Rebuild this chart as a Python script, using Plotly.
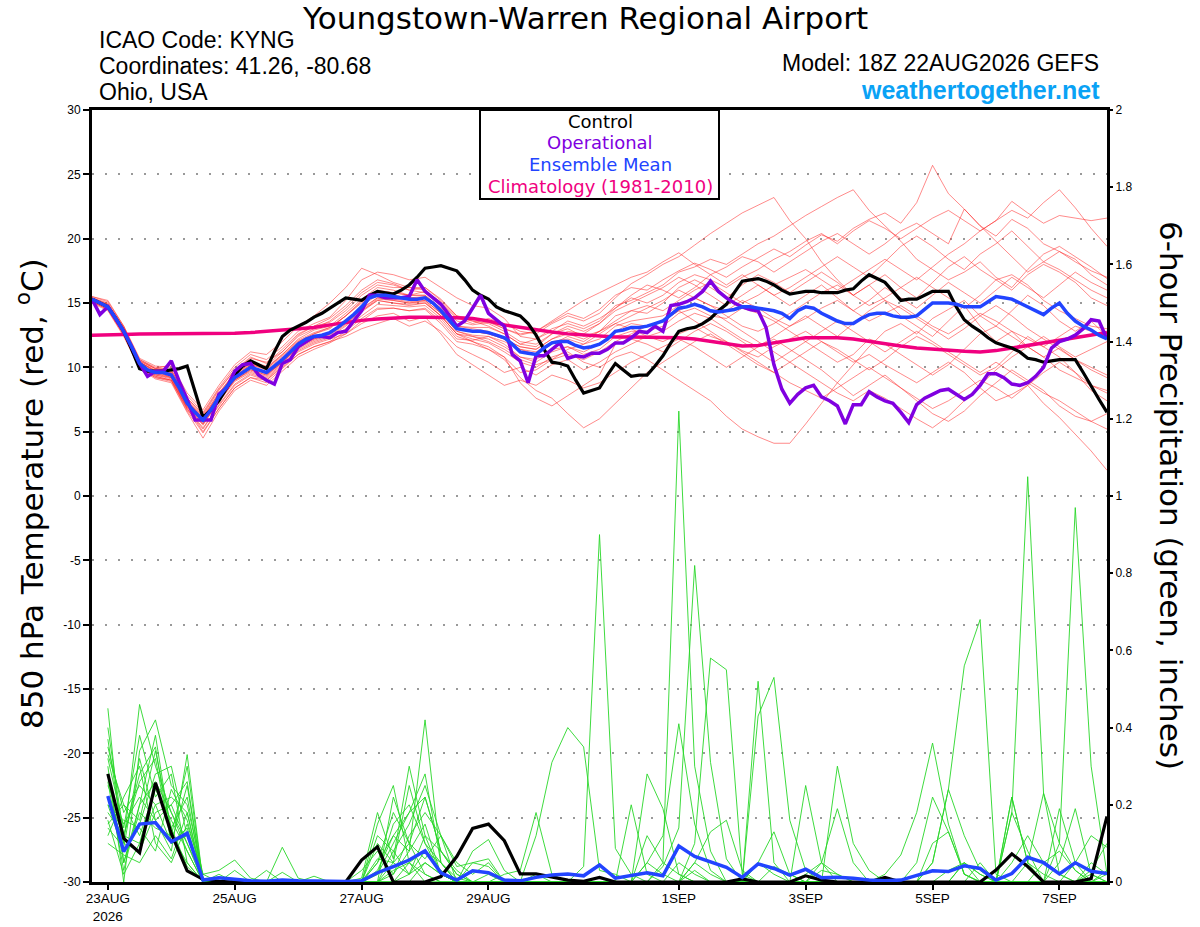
import plotly.graph_objects as go
from datetime import datetime, timedelta

# run start and axis labels
T0 = datetime(2026, 8, 22, 18)
TICK_DATES = [datetime(2026, 8, 23), datetime(2026, 8, 25), datetime(2026, 8, 27), datetime(2026, 8, 29),
              datetime(2026, 9, 1), datetime(2026, 9, 3), datetime(2026, 9, 5), datetime(2026, 9, 7)]
TICK_TEXT = ["23AUG<br>2026", "25AUG", "27AUG", "29AUG", "1SEP", "3SEP", "5SEP", "7SEP"]
TEMP_TICKS = [-30, -25, -20, -15, -10, -5, 0, 5, 10, 15, 20, 25, 30]
PRCP_TICKS = [0, 0.2, 0.4, 0.6, 0.8, 1, 1.2, 1.4, 1.6, 1.8, 2]

# 850 hPa temperature, 3-hourly (h0..h384), one row per day
control_t = [
    15.3, 15.0, 14.7, 13.8, 12.8, 11.4, 9.9, 9.7,
    9.7, 9.7, 9.8, 9.9, 10.1, 8.1, 6.1, 6.7,
    7.4, 8.4, 9.4, 10.1, 10.5, 10.2, 9.9, 11.2,
    12.4, 12.9, 13.2, 13.5, 13.9, 14.2, 14.6, 15.0,
    15.4, 15.3, 15.2, 15.6, 15.9, 15.8, 15.7, 16.0,
    16.4, 17.0, 17.7, 17.8, 17.9, 17.7, 17.5, 16.8,
    16.0, 15.6, 15.3, 14.7, 14.4, 14.2, 14.0, 13.4,
    12.5, 11.4, 10.4, 10.3, 10.1, 9.0, 8.0, 8.2,
    8.4, 9.4, 10.3, 9.8, 9.3, 9.4, 9.4, 10.1,
    10.9, 11.9, 12.8, 13.0, 13.1, 13.4, 13.8, 14.4,
    14.9, 15.8, 16.7, 16.8, 16.9, 16.7, 16.4, 16.0,
    15.7, 15.8, 15.9, 15.9, 15.8, 15.8, 15.8, 16.0,
    16.1, 16.7, 17.2, 16.9, 16.6, 15.9, 15.2, 15.3,
    15.3, 15.6, 15.9, 15.9, 15.9, 14.7, 13.7, 13.2,
    12.8, 12.3, 11.9, 11.7, 11.5, 11.2, 10.7, 10.6,
    10.4, 10.5, 10.6, 10.6, 10.6, 9.6, 8.5, 7.5,
    6.5]

operational_t = [
    15.3, 14.1, 14.7, 13.7, 12.8, 11.6, 10.3, 9.3,
    9.7, 9.7, 10.5, 8.9, 7.5, 5.9, 5.9, 5.9,
    7.9, 8.4, 9.7, 10.2, 10.3, 9.4, 9.0, 8.7,
    10.3, 10.6, 11.6, 12.0, 12.4, 12.4, 12.3, 12.7,
    12.8, 13.6, 14.4, 15.6, 15.6, 15.4, 15.4, 15.4,
    15.5, 16.8, 15.9, 15.4, 14.9, 14.1, 13.2, 13.6,
    14.6, 15.6, 14.2, 13.7, 13.2, 11.0, 10.5, 8.8,
    10.9, 10.9, 11.4, 11.9, 10.7, 10.9, 10.8, 11.1,
    11.1, 11.4, 11.9, 11.9, 12.3, 12.8, 12.7, 13.2,
    12.8, 14.8, 14.9, 15.1, 15.4, 15.9, 16.7, 15.9,
    15.4, 15.0, 14.7, 14.5, 14.4, 13.1, 10.2, 8.3,
    7.2, 7.9, 8.4, 8.6, 7.7, 7.4, 7.0, 5.6,
    7.1, 7.1, 8.1, 7.7, 7.4, 7.2, 6.5, 5.7,
    7.1, 7.6, 7.9, 8.2, 8.3, 7.9, 7.5, 7.9,
    8.6, 9.5, 9.5, 9.2, 8.7, 8.6, 8.8, 9.3,
    10.0, 11.5, 12.0, 12.2, 12.5, 13.0, 13.7, 13.6,
    12.2]

mean_t = [
    15.3, 15.0, 14.7, 13.8, 12.8, 11.6, 10.3, 9.8,
    9.6, 9.6, 9.4, 8.4, 7.2, 6.5, 5.9, 6.7,
    7.7, 8.5, 9.2, 9.6, 10.0, 9.8, 9.6, 10.1,
    10.6, 11.2, 11.8, 12.2, 12.4, 12.5, 12.7, 13.1,
    13.6, 14.1, 14.7, 15.4, 15.6, 15.6, 15.5, 15.4,
    15.3, 15.3, 15.4, 15.0, 14.4, 13.7, 13.0, 12.9,
    12.8, 12.8, 12.7, 12.5, 12.3, 11.8, 11.2, 11.1,
    11.0, 11.5, 11.9, 12.0, 12.0, 11.7, 11.5, 11.6,
    11.8, 12.2, 12.8, 12.9, 13.1, 13.1, 13.2, 13.4,
    13.6, 14.1, 14.6, 14.7, 14.9, 14.7, 14.4, 14.3,
    14.4, 14.5, 14.7, 14.7, 14.6, 14.5, 14.4, 14.2,
    13.8, 14.4, 14.7, 14.6, 14.2, 13.9, 13.6, 13.4,
    13.4, 13.8, 14.1, 14.2, 14.2, 14.0, 13.9, 13.9,
    14.0, 14.5, 15.0, 15.0, 15.0, 14.9, 14.7, 14.7,
    14.7, 15.1, 15.5, 15.4, 15.3, 15.0, 14.7, 14.4,
    14.1, 14.6, 15.0, 14.2, 13.6, 13.2, 12.9, 12.5,
    12.2]

# climatology, 6-hourly (h0..h384)
climatology_t = [
    12.5, 12.5, 12.55, 12.6, 12.6, 12.6, 12.6, 12.6,
    12.6, 12.65, 12.7, 12.8, 12.9, 13.0, 13.1, 13.3,
    13.5, 13.65, 13.75, 13.85, 13.9, 13.9, 13.9, 13.85,
    13.8, 13.6, 13.3, 13.1, 12.9, 12.75, 12.6, 12.5,
    12.4, 12.35, 12.35, 12.35, 12.3, 12.3, 12.2, 12.0,
    11.8, 11.65, 11.7, 11.9, 12.1, 12.3, 12.3, 12.3,
    12.2, 12.0, 11.8, 11.65, 11.5, 11.4, 11.3, 11.25,
    11.2, 11.3, 11.5, 11.7, 11.9, 12.1, 12.3, 12.5,
    12.7]

# ensemble members, temperature, 6-hourly (h0..h384)
t_m01 = [15.5, 15.2, 13.2, 10.6, 10.0, 9.8, 7.6, 6.3, 8.2,
         9.8, 10.7, 10.4, 11.2, 12.5, 13.2, 13.8, 14.8, 16.0, 16.8, 16.5, 16.0, 15.8, 14.9, 13.6, 13.3, 13.5, 13.0,
         12.5, 12.8, 13.5, 14.2, 13.8, 14.5, 15.6, 16.2, 16.0, 16.8, 17.5, 18.1, 17.6, 17.0, 17.8, 18.5, 19.2, 18.6,
         19.5, 20.3, 19.8, 20.8, 21.5, 22.0, 21.2, 22.8, 25.7, 23.5, 22.3, 21.0, 20.2, 21.5, 20.8, 19.6, 19.0, 18.2, 17.5, 17.0]
t_m02 = [15.1, 14.5, 12.5, 10.0, 9.2, 9.0, 6.8, 5.3, 7.0,
         8.6, 9.4, 9.0, 10.0, 11.0, 11.6, 12.0, 12.4, 13.0, 13.4, 13.8, 13.2, 13.6, 12.8, 11.6, 11.0, 10.4, 9.6,
         10.0, 9.4, 10.2, 10.6, 9.8, 10.4, 11.2, 11.8, 12.4, 12.0, 12.6, 13.1, 12.4, 12.0, 11.3, 10.8, 11.6, 12.2,
         12.8, 12.0, 11.2, 10.4, 11.0, 10.2, 9.5, 8.8, 9.6, 10.4, 9.6, 8.4, 7.4, 7.9, 8.6, 7.2, 6.1, 4.8, 3.5, 2.0]
t_m03 = [15.4, 14.9, 13.0, 10.4, 9.8, 9.6, 7.4, 6.0, 7.9,
         9.5, 10.3, 10.0, 11.0, 12.2, 12.9, 13.2, 14.2, 15.3, 16.2, 16.0, 15.6, 15.9, 15.1, 13.9, 13.4, 13.8, 13.4,
         12.8, 12.6, 13.4, 14.0, 13.6, 14.2, 15.4, 16.5, 17.2, 18.0, 18.6, 19.5, 20.4, 21.2, 22.0, 22.6, 23.2, 21.4,
         20.0, 18.2, 16.8, 15.6, 16.4, 15.2, 14.0, 13.2, 12.4, 13.6, 14.8, 13.2, 12.0, 12.8, 11.6, 10.8, 11.5, 10.6, 9.8, 9.2]
t_m04 = [15.2, 14.6, 12.6, 10.1, 9.4, 9.1, 6.9, 5.6, 7.3,
         8.9, 9.6, 9.2, 10.3, 11.4, 12.0, 12.4, 13.2, 14.3, 15.2, 15.0, 14.8, 15.0, 14.0, 12.6, 12.2, 11.9, 11.2,
         10.4, 10.0, 10.8, 11.2, 10.4, 10.0, 10.8, 11.2, 10.6, 9.8, 9.0, 8.2, 7.4, 6.2, 5.2, 4.6, 4.1, 4.1,
         5.6, 7.2, 8.8, 10.2, 11.6, 12.8, 13.4, 12.6, 13.8, 14.5, 15.2, 14.0, 13.2, 14.4, 15.6, 14.8, 13.6, 12.8, 13.6, 12.4]
t_m05 = [15.3, 14.8, 12.9, 10.2, 9.5, 9.5, 7.3, 6.1, 7.8,
         9.3, 10.2, 9.9, 10.9, 12.0, 12.6, 13.1, 14.0, 15.0, 15.9, 15.8, 15.6, 15.6, 14.6, 13.2, 13.1, 13.1, 12.6,
         11.8, 12.2, 13.0, 13.4, 13.0, 13.6, 14.8, 15.2, 15.8, 16.4, 17.4, 17.8, 18.4, 18.0, 18.8, 19.6, 20.2, 21.0,
         21.8, 22.5, 23.2, 23.8, 22.2, 21.0, 19.8, 18.4, 17.6, 16.8, 17.4, 18.2, 17.0, 16.2, 17.6, 18.8, 19.4, 18.6, 17.8, 16.9]
t_m06 = [15.0, 14.4, 12.4, 9.9, 9.1, 8.8, 6.5, 4.5, 6.6,
         8.2, 9.0, 8.6, 9.7, 10.8, 11.4, 11.9, 12.6, 13.6, 14.5, 14.6, 14.4, 14.6, 13.6, 12.2, 12.1, 12.4, 12.0,
         11.4, 11.0, 11.8, 12.4, 12.0, 12.8, 13.4, 14.0, 14.6, 15.2, 16.0, 15.4, 14.8, 14.0, 13.2, 12.8, 13.4, 14.2,
         15.0, 15.8, 16.4, 15.6, 14.8, 15.4, 16.2, 17.0, 16.2, 15.4, 14.6, 15.6, 16.8, 17.2, 16.4, 15.2, 14.4, 13.8, 13.2, 13.0]
t_m07 = [15.2, 14.6, 12.7, 10.4, 9.7, 9.2, 7.0, 5.8, 7.6,
         9.0, 9.8, 9.4, 10.4, 11.6, 12.2, 12.6, 13.4, 14.6, 15.4, 15.2, 15.0, 15.1, 14.0, 12.6, 12.0, 11.4, 10.6,
         9.2, 8.2, 7.6, 6.4, 5.3, 6.0, 7.2, 8.4, 9.6, 10.4, 11.2, 12.0, 12.6, 11.8, 11.0, 10.2, 9.6, 10.4,
         11.2, 12.0, 11.4, 10.6, 9.8, 10.6, 11.6, 12.4, 11.8, 11.0, 10.2, 9.4, 10.0, 11.2, 12.4, 11.6, 10.8, 9.6, 8.2, 7.4]
t_m08 = [15.4, 14.9, 13.1, 10.5, 9.9, 9.7, 7.5, 6.2, 8.0,
         9.6, 10.4, 10.1, 11.2, 12.4, 13.0, 13.6, 14.6, 15.8, 16.6, 16.4, 16.0, 16.2, 15.3, 14.0, 13.8, 13.6, 13.0,
         12.6, 12.8, 13.6, 14.4, 15.2, 15.8, 16.4, 17.0, 17.4, 18.2, 18.9, 18.0, 17.2, 16.4, 17.2, 16.4, 15.6, 16.2,
         17.0, 17.8, 18.6, 17.8, 17.0, 18.2, 19.4, 20.2, 19.4, 18.4, 17.6, 18.8, 19.6, 20.6, 19.4, 18.2, 17.6, 16.8, 16.0, 15.4]
t_m09 = [15.3, 14.7, 12.8, 10.3, 9.5, 9.3, 7.1, 5.7, 7.6,
         9.1, 9.9, 9.5, 10.5, 11.7, 12.3, 12.6, 13.5, 14.5, 15.4, 15.3, 15.1, 15.2, 14.2, 12.8, 12.5, 12.4, 11.8,
         10.8, 10.6, 11.4, 11.6, 11.0, 11.4, 12.4, 12.8, 12.8, 13.2, 14.2, 14.6, 14.0, 13.8, 14.6, 14.2, 13.6, 12.8,
         12.0, 11.2, 10.4, 11.0, 12.2, 11.8, 11.0, 10.2, 9.4, 10.2, 11.4, 12.6, 13.2, 12.4, 11.6, 10.8, 9.8, 9.2, 8.6, 8.2]
t_m10 = [15.4, 14.8, 13.0, 10.6, 9.9, 9.8, 7.6, 6.4, 8.3,
         9.8, 10.8, 10.3, 11.4, 12.6, 13.2, 13.5, 14.4, 15.6, 16.4, 16.2, 16.2, 16.0, 15.0, 13.8, 13.6, 13.4, 12.8,
         12.0, 11.8, 12.6, 13.0, 12.4, 12.8, 14.0, 14.4, 14.2, 15.0, 16.2, 16.8, 16.2, 15.4, 16.4, 17.2, 16.6, 15.8,
         16.6, 17.4, 16.6, 15.6, 16.4, 17.2, 16.2, 15.4, 16.6, 17.8, 18.6, 17.6, 16.8, 16.0, 17.2, 18.0, 17.4, 16.6, 15.4, 14.8]
t_m11 = [15.1, 14.5, 12.6, 10.0, 9.3, 9.0, 6.8, 5.0, 6.8,
         8.4, 9.2, 9.0, 10.1, 11.2, 11.8, 12.2, 12.6, 13.4, 14.0, 14.2, 13.6, 13.9, 12.6, 11.0, 10.2, 9.4, 8.6,
         9.0, 8.6, 9.4, 9.0, 8.4, 8.8, 9.6, 10.4, 11.0, 11.6, 12.2, 11.6, 10.8, 10.0, 10.8, 11.6, 12.2, 11.4,
         10.6, 9.8, 8.8, 7.8, 8.6, 9.4, 8.4, 7.4, 6.4, 5.8, 6.6, 7.8, 8.8, 9.8, 9.0, 8.2, 7.0, 6.2, 5.8, 5.2]
t_m12 = [15.5, 15.1, 13.2, 10.7, 10.1, 10.0, 7.8, 6.5, 8.4,
         10.0, 11.0, 10.6, 11.6, 12.8, 13.4, 13.9, 15.2, 16.8, 17.4, 17.2, 16.8, 17.0, 16.2, 15.4, 14.8, 14.6, 13.8,
         12.4, 12.2, 12.8, 13.6, 13.2, 13.8, 14.6, 15.4, 15.0, 15.6, 16.6, 17.2, 16.8, 16.2, 17.0, 17.6, 18.4, 19.0,
         19.8, 20.4, 19.6, 20.6, 21.4, 20.8, 20.0, 20.8, 21.6, 22.2, 21.4, 20.6, 21.4, 22.9, 22.0, 21.2, 21.8, 21.6, 21.4, 21.6]
t_m13 = [15.2, 14.6, 12.7, 10.2, 9.4, 9.2, 6.9, 5.5, 7.4,
         9.0, 9.7, 9.3, 10.4, 11.5, 12.1, 12.5, 13.3, 14.4, 15.2, 15.0, 14.9, 15.0, 14.0, 12.6, 12.4, 12.0, 11.4,
         10.6, 10.2, 10.6, 11.4, 11.8, 12.6, 13.4, 13.0, 12.4, 12.8, 13.6, 14.2, 13.8, 13.0, 12.2, 11.6, 12.4, 13.2,
         14.0, 13.2, 12.4, 13.4, 14.4, 15.2, 14.6, 13.8, 13.0, 12.2, 13.0, 14.0, 14.8, 14.0, 13.0, 12.2, 11.4, 10.6, 10.0, 9.4]
t_m14 = [15.3, 14.8, 12.9, 10.4, 9.7, 9.6, 7.4, 6.1, 8.0,
         9.5, 10.3, 9.9, 11.0, 12.1, 12.7, 13.1, 14.0, 15.2, 16.0, 15.8, 15.6, 15.6, 14.6, 13.2, 13.0, 12.8, 12.2,
         11.6, 11.4, 12.2, 12.6, 12.2, 12.8, 13.6, 14.4, 14.8, 14.4, 15.2, 16.0, 16.6, 15.8, 15.0, 15.6, 16.4, 17.0,
         17.6, 16.8, 16.0, 16.8, 17.6, 18.4, 17.6, 16.8, 17.8, 18.8, 19.6, 20.6, 21.4, 22.2, 21.6, 22.8, 23.8, 22.4, 20.8, 19.4]
t_m15 = [15.2, 14.6, 12.6, 10.1, 9.3, 9.0, 6.7, 5.2, 7.1,
         8.7, 9.5, 9.1, 10.2, 11.3, 11.9, 12.3, 13.0, 14.0, 14.9, 14.8, 14.7, 14.8, 13.8, 12.4, 12.0, 11.6, 10.8,
         9.6, 9.8, 10.6, 11.0, 10.6, 11.2, 12.0, 12.6, 13.2, 13.6, 14.4, 13.6, 12.8, 12.0, 11.2, 10.4, 9.6, 8.8,
         8.2, 7.6, 8.4, 9.2, 10.0, 9.2, 8.4, 7.6, 6.8, 7.4, 8.2, 9.0, 8.4, 7.6, 8.6, 9.6, 10.4, 9.6, 8.6, 8.0]
t_m16 = [15.4, 15.0, 13.1, 10.5, 9.9, 10.2, 8.0, 6.7, 8.6,
         10.2, 11.2, 11.0, 12.0, 13.2, 14.0, 15.0, 16.2, 17.7, 17.2, 16.6, 16.2, 16.2, 15.2, 14.0, 13.6, 13.2, 12.6,
         11.8, 11.6, 12.6, 13.2, 12.8, 13.4, 14.4, 15.0, 15.6, 16.2, 17.0, 16.4, 15.6, 14.8, 15.6, 16.4, 15.6, 14.8,
         15.6, 16.4, 15.4, 14.4, 15.2, 16.2, 15.4, 14.6, 15.6, 16.6, 15.8, 15.0, 16.0, 17.0, 16.2, 15.4, 16.4, 17.4, 16.6, 16.0]
t_m17 = [15.3, 14.7, 12.8, 10.3, 9.6, 9.4, 7.2, 5.9, 7.7,
         9.2, 10.0, 9.6, 10.6, 11.8, 12.4, 12.7, 13.6, 14.8, 15.6, 15.6, 15.4, 15.5, 14.5, 13.1, 12.8, 12.6, 12.2,
         11.4, 11.2, 12.0, 12.2, 11.8, 12.2, 13.2, 13.6, 13.8, 14.0, 14.8, 15.4, 14.8, 14.4, 15.2, 14.6, 13.8, 13.2,
         13.8, 14.6, 15.2, 14.4, 13.6, 14.2, 14.8, 14.0, 13.2, 12.6, 13.4, 14.2, 13.6, 12.8, 12.2, 11.6, 12.4, 13.2, 12.8, 12.4]
t_m18 = [15.2, 14.7, 12.8, 10.2, 9.5, 9.2, 7.0, 5.6, 7.4,
         9.0, 9.8, 9.4, 10.4, 11.6, 12.2, 12.6, 13.4, 14.4, 15.3, 15.2, 15.0, 15.2, 14.2, 12.8, 12.4, 12.2, 11.6,
         10.8, 10.4, 11.2, 11.6, 11.2, 11.8, 12.8, 13.4, 13.2, 13.6, 14.4, 15.0, 14.4, 13.6, 12.8, 12.0, 11.2, 10.4,
         9.6, 8.8, 8.0, 7.4, 8.2, 7.6, 6.8, 6.0, 5.3, 6.2, 7.4, 8.6, 9.8, 10.8, 11.6, 12.4, 11.6, 10.8, 11.4, 12.0]
t_m19 = [15.3, 14.8, 12.9, 10.4, 9.7, 9.5, 7.3, 6.0, 7.8,
         9.4, 10.2, 9.8, 10.8, 12.0, 12.6, 13.0, 14.0, 15.1, 15.8, 15.6, 15.4, 15.4, 14.4, 13.0, 12.8, 12.6, 12.2,
         11.6, 11.4, 12.2, 12.8, 12.6, 13.4, 14.6, 15.6, 16.4, 16.0, 15.4, 16.2, 17.2, 17.8, 18.6, 18.2, 17.4, 18.2,
         19.0, 19.8, 20.4, 19.6, 18.8, 19.6, 20.6, 21.2, 20.4, 19.6, 22.3, 21.0, 19.8, 18.6, 17.4, 18.2, 19.0, 18.4, 17.2, 16.4]
t_m20 = [15.1, 14.5, 12.5, 10.0, 9.2, 8.9, 6.6, 4.9, 6.8,
         8.4, 9.2, 8.8, 9.9, 11.0, 11.6, 12.0, 12.8, 13.8, 14.6, 14.6, 14.4, 14.5, 13.4, 12.0, 11.8, 11.4, 10.8,
         8.8, 7.6, 7.0, 7.8, 8.6, 9.4, 11.8, 12.2, 11.8, 11.2, 12.0, 12.8, 13.4, 12.8, 12.0, 11.2, 10.4, 11.2,
         12.0, 12.8, 13.6, 12.8, 12.0, 11.2, 12.0, 12.8, 12.0, 11.2, 10.4, 9.6, 10.4, 9.6, 8.8, 8.0, 7.4, 6.6, 5.8, 6.4]

# 6-hour precipitation (inches), h6..h384
control_p = [0.28, 0.113, 0.076, 0.257, 0.126, 0.029, 0.007, 0.002, 0, 0, 0, 0, 0, 0, 0, 0,
             0.057, 0.091, 0, 0, 0, 0.014, 0.066, 0.139, 0.150, 0.107, 0.021, 0.021, 0.014, 0.005, 0.002, 0.012,
             0, 0, 0, 0, 0, 0, 0, 0, 0.008, 0, 0, 0, 0.016, 0.005, 0, 0,
             0, 0.012, 0, 0, 0, 0, 0, 0, 0.031, 0.073, 0.040, 0, 0, 0, 0.009, 0.17]
mean_p = [0.223, 0.079, 0.150, 0.154, 0.104, 0.126, 0.005, 0.011, 0.007, 0.003, 0.002, 0.005, 0.003, 0.002, 0.001, 0.001,
          0.003, 0.024, 0.040, 0.057, 0.081, 0.024, 0.005, 0.029, 0.024, 0.005, 0.003, 0.012, 0.018, 0.021, 0.016, 0.044,
          0.010, 0.016, 0.024, 0.016, 0.093, 0.066, 0.053, 0.038, 0.012, 0.047, 0.035, 0.018, 0.033, 0.011, 0.012, 0.010,
          0.005, 0.003, 0.005, 0.016, 0.029, 0.027, 0.042, 0.035, 0.005, 0.022, 0.064, 0.050, 0.021, 0.050, 0.028, 0.022]

p_m01 = [0.45, 0.05, 0.20, 0.38, 0.12, 0.05, 0, 0, 0, 0, 0, 0, 0, 0, 0, 0,
         0, 0.05, 0.12, 0.08, 0.42, 0.05, 0, 0, 0.02, 0, 0, 0, 0, 0, 0, 0,
         0, 0, 0, 0.05, 1.22, 0.30, 0.08, 0, 0, 0, 0, 0, 0, 0, 0, 0,
         0, 0, 0, 0, 0, 0, 0.05, 0.02, 0, 0, 0, 0, 0, 0, 0, 0]
p_m02 = [0.37, 0.10, 0.46, 0.30, 0.18, 0.10, 0.01, 0, 0, 0, 0, 0, 0, 0, 0, 0,
         0, 0, 0.05, 0.25, 0.10, 0.02, 0, 0, 0, 0, 0, 0.12, 0.31, 0.40, 0.35, 0.03,
         0.02, 0, 0, 0, 0, 0, 0, 0, 0, 0, 0, 0, 0, 0, 0, 0,
         0, 0, 0, 0, 0, 0, 0, 0, 0, 0, 0, 0, 0, 0, 0.03, 0.10]
p_m03 = [0.30, 0, 0.34, 0.42, 0.25, 0.20, 0.02, 0.03, 0.057, 0.01, 0, 0, 0, 0, 0, 0,
         0, 0.15, 0.25, 0.05, 0, 0, 0, 0, 0, 0, 0, 0, 0, 0, 0.04, 0.90,
         0.087, 0.02, 0, 0, 0, 0, 0, 0, 0, 0, 0, 0, 0, 0, 0, 0,
         0, 0, 0, 0, 0, 0, 0, 0.05, 0, 0.22, 0.05, 0, 0, 0, 0, 0]
p_m04 = [0.25, 0.15, 0.22, 0.16, 0.08, 0.33, 0, 0, 0, 0, 0, 0.09, 0.01, 0, 0, 0,
         0, 0.02, 0.10, 0.18, 0.22, 0.08, 0.03, 0, 0, 0, 0, 0, 0, 0, 0, 0,
         0, 0, 0.05, 0.12, 0.41, 0.15, 0.03, 0, 0, 0, 0, 0, 0, 0, 0, 0,
         0, 0, 0, 0, 0.05, 0.24, 0.56, 0.68, 0.02, 0, 0, 0, 0, 0, 0, 0]
p_m05 = [0.20, 0.08, 0.15, 0.28, 0.30, 0.12, 0.01, 0, 0.03, 0, 0.03, 0, 0, 0, 0, 0,
         0.01, 0.18, 0.06, 0.30, 0.12, 0.02, 0, 0.08, 0.11, 0.03, 0, 0, 0, 0, 0, 0,
         0, 0.20, 0.02, 0, 0, 0.10, 0.58, 0.55, 0.02, 0, 0, 0, 0, 0, 0, 0,
         0, 0, 0, 0, 0, 0, 0, 0, 0, 0.18, 1.05, 0.23, 0.02, 0, 0, 0]
p_m06 = [0.18, 0.12, 0.28, 0.35, 0.10, 0.25, 0, 0.02, 0, 0, 0, 0.025, 0, 0, 0, 0,
         0, 0.05, 0.18, 0.10, 0.06, 0.12, 0.05, 0.02, 0.05, 0, 0, 0, 0, 0, 0, 0,
         0, 0, 0, 0.04, 0.14, 0.82, 0.31, 0.06, 0, 0.05, 0.13, 0.02, 0, 0, 0, 0,
         0, 0, 0, 0, 0.10, 0.13, 0.02, 0, 0, 0, 0, 0, 0.05, 0.19, 0.02, 0]
p_m07 = [0.15, 0.20, 0.12, 0.24, 0.16, 0.08, 0, 0, 0, 0, 0, 0, 0, 0.015, 0, 0,
         0, 0, 0.08, 0.15, 0.25, 0.12, 0.04, 0.05, 0.06, 0, 0, 0.02, 0, 0, 0, 0,
         0, 0, 0.28, 0.19, 0.02, 0, 0, 0, 0, 0.52, 0.05, 0, 0.25, 0.05, 0, 0,
         0, 0, 0, 0, 0, 0, 0, 0, 0, 0, 0, 0, 0.10, 0.97, 0.30, 0.02]
p_m08 = [0.12, 0.22, 0.30, 0.10, 0.05, 0.15, 0.02, 0, 0, 0, 0, 0, 0, 0, 0, 0,
         0.03, 0.08, 0.02, 0.12, 0.18, 0.12, 0, 0, 0, 0.02, 0.03, 0.18, 0.02, 0, 0, 0,
         0, 0, 0, 0, 0, 0, 0, 0, 0, 0.43, 0.53, 0.16, 0.03, 0, 0.30, 0.10,
         0.03, 0, 0, 0, 0, 0, 0, 0, 0, 0, 0, 0, 0, 0, 0, 0]
p_m09 = [0.35, 0.18, 0.25, 0.20, 0.22, 0.18, 0.01, 0, 0, 0, 0, 0, 0, 0, 0, 0,
         0, 0.10, 0.05, 0.02, 0.08, 0.05, 0, 0, 0, 0, 0, 0, 0, 0, 0, 0,
         0, 0, 0, 0, 0, 0.05, 0.13, 0.16, 0.03, 0, 0, 0, 0.02, 0.05, 0.02, 0,
         0, 0.02, 0.07, 0.18, 0.36, 0.15, 0.02, 0, 0, 0, 0, 0, 0, 0, 0, 0]
p_m10 = [0.28, 0.05, 0.18, 0.14, 0.12, 0.30, 0, 0, 0, 0, 0, 0, 0, 0, 0, 0,
         0, 0, 0.22, 0.10, 0.22, 0.08, 0.02, 0, 0, 0, 0, 0, 0, 0, 0, 0,
         0, 0, 0, 0, 0, 0, 0, 0, 0, 0, 0, 0, 0, 0, 0, 0,
         0, 0, 0, 0.05, 0.22, 0.13, 0.02, 0, 0, 0.22, 0.05, 0.02, 0, 0.05, 0.12, 0.09]
p_m11 = [0.22, 0.10, 0.08, 0.18, 0.20, 0.10, 0, 0, 0, 0, 0, 0, 0, 0, 0, 0,
         0, 0, 0, 0.05, 0.08, 0.03, 0, 0, 0, 0, 0, 0, 0, 0, 0, 0,
         0, 0, 0.05, 0.02, 0, 0, 0, 0, 0, 0, 0, 0, 0, 0.03, 0.02, 0,
         0, 0, 0, 0, 0, 0, 0, 0, 0, 0, 0.05, 0.23, 0.10, 0.03, 0, 0]
p_m12 = [0.16, 0.02, 0.10, 0.25, 0.14, 0.22, 0, 0, 0, 0, 0, 0, 0, 0, 0, 0,
         0, 0, 0, 0, 0.05, 0.02, 0, 0, 0, 0, 0, 0, 0, 0, 0, 0,
         0, 0, 0, 0, 0.05, 0.02, 0, 0, 0, 0.05, 0.02, 0, 0, 0, 0, 0,
         0, 0, 0, 0, 0.05, 0.24, 0.12, 0.03, 0, 0.18, 0.08, 0, 0.19, 0.05, 0, 0.03]
p_m13 = [0.32, 0.14, 0.38, 0.22, 0.28, 0.05, 0, 0, 0, 0, 0, 0, 0, 0, 0, 0,
         0, 0.02, 0.15, 0.20, 0.10, 0.05, 0, 0.05, 0.04, 0, 0, 0, 0, 0, 0, 0,
         0, 0, 0, 0, 0, 0.03, 0, 0, 0, 0, 0, 0, 0, 0.05, 0.19, 0.05,
         0, 0, 0, 0, 0, 0, 0, 0, 0, 0, 0, 0, 0, 0, 0, 0]
p_m14 = [0.10, 0.07, 0.05, 0.12, 0.06, 0.18, 0, 0, 0, 0, 0, 0, 0, 0, 0, 0,
         0, 0, 0.03, 0.05, 0.02, 0, 0, 0, 0, 0, 0, 0, 0, 0, 0, 0,
         0, 0, 0, 0, 0, 0, 0, 0, 0, 0, 0, 0, 0, 0, 0, 0,
         0, 0, 0, 0, 0, 0, 0, 0, 0, 0, 0, 0, 0, 0, 0, 0.02]
p_m15 = [0.40, 0.12, 0.26, 0.32, 0.10, 0.14, 0, 0, 0, 0, 0, 0, 0, 0, 0, 0,
         0, 0.03, 0.12, 0.18, 0.28, 0.05, 0.01, 0, 0, 0, 0, 0, 0, 0, 0, 0,
         0, 0, 0, 0, 0, 0, 0, 0, 0, 0, 0.04, 0.02, 0, 0, 0, 0,
         0, 0, 0, 0, 0, 0, 0.05, 0, 0, 0.05, 0.12, 0.05, 0.02, 0, 0.05, 0.02]
p_m16 = [0.20, 0.16, 0.14, 0.08, 0.24, 0.16, 0.01, 0, 0, 0, 0, 0, 0, 0, 0, 0,
         0, 0, 0.02, 0.08, 0.15, 0.02, 0, 0, 0, 0, 0, 0, 0, 0, 0, 0,
         0, 0, 0.12, 0.05, 0.02, 0, 0, 0, 0, 0, 0, 0, 0, 0, 0, 0,
         0, 0, 0, 0, 0, 0, 0, 0, 0, 0, 0, 0, 0, 0, 0, 0]
p_m17 = [0.26, 0.03, 0.20, 0.26, 0.18, 0.08, 0, 0, 0, 0, 0, 0, 0, 0, 0, 0,
         0, 0, 0, 0.02, 0.05, 0.02, 0, 0, 0, 0, 0, 0, 0, 0, 0, 0,
         0, 0, 0, 0, 0, 0, 0, 0, 0, 0, 0, 0, 0, 0, 0, 0,
         0, 0, 0, 0, 0, 0.03, 0.05, 0.02, 0, 0, 0, 0, 0, 0, 0.02, 0]
p_m18 = [0.14, 0.09, 0.32, 0.16, 0.20, 0.26, 0, 0, 0, 0, 0, 0, 0, 0, 0, 0,
         0, 0.12, 0.08, 0.02, 0.12, 0.08, 0.02, 0, 0, 0, 0, 0, 0, 0, 0, 0,
         0, 0, 0, 0, 0, 0.05, 0.02, 0, 0, 0, 0, 0, 0, 0, 0, 0,
         0, 0, 0, 0, 0, 0, 0, 0, 0, 0, 0, 0.05, 0.08, 0.03, 0, 0]
p_m19 = [0.33, 0.20, 0.16, 0.34, 0.14, 0.04, 0, 0, 0, 0, 0, 0, 0, 0, 0, 0,
         0, 0.06, 0.05, 0.10, 0.02, 0, 0, 0, 0, 0, 0, 0, 0, 0, 0, 0,
         0, 0, 0, 0, 0, 0, 0, 0, 0, 0, 0, 0, 0, 0, 0, 0,
         0, 0, 0, 0, 0, 0, 0, 0, 0, 0, 0, 0, 0, 0, 0, 0]
p_m20 = [0.22, 0.12, 0.10, 0.20, 0.10, 0.12, 0, 0, 0, 0, 0, 0, 0, 0, 0, 0,
         0, 0, 0, 0, 0, 0, 0, 0, 0, 0, 0, 0, 0, 0, 0, 0,
         0, 0, 0, 0, 0, 0, 0, 0, 0, 0, 0, 0, 0, 0, 0, 0,
         0, 0, 0, 0, 0, 0, 0, 0, 0, 0, 0, 0, 0, 0, 0, 0]

temp_members = [t_m01, t_m02, t_m03, t_m04, t_m05, t_m06, t_m07, t_m08, t_m09, t_m10,
                t_m11, t_m12, t_m13, t_m14, t_m15, t_m16, t_m17, t_m18, t_m19, t_m20]
prcp_members = [p_m01, p_m02, p_m03, p_m04, p_m05, p_m06, p_m07, p_m08, p_m09, p_m10,
                p_m11, p_m12, p_m13, p_m14, p_m15, p_m16, p_m17, p_m18, p_m19, p_m20]


def times(step, start=0):
    return [T0 + timedelta(hours=h) for h in range(start, 385, step)]


t3 = times(3)
t6 = times(6)
tp = times(6, 6)

RED = "rgba(255,40,40,0.6)"
GREEN = "rgb(40,215,40)"
BLACK = "#000000"
PURPLE = "#8000e0"
BLUE = "#2244ff"
PINK = "#f0007f"
FONT = "Liberation Sans, Arial, sans-serif"
WIDE = "DejaVu Sans, sans-serif"

fig = go.Figure()
for m in temp_members:
    fig.add_trace(go.Scatter(x=t6[:len(m)], y=m, mode="lines", line=dict(color=RED, width=0.9), hoverinfo="skip"))
fig.add_trace(go.Scatter(x=t6, y=climatology_t, mode="lines", line=dict(color=PINK, width=3.5)))
fig.add_trace(go.Scatter(x=t3, y=control_t, mode="lines", line=dict(color=BLACK, width=3.2)))
fig.add_trace(go.Scatter(x=t3, y=operational_t, mode="lines", line=dict(color=PURPLE, width=3.5)))
fig.add_trace(go.Scatter(x=t3, y=mean_t, mode="lines", line=dict(color=BLUE, width=3.5)))

for m in prcp_members:
    fig.add_trace(go.Scatter(x=tp[:len(m)], y=m, mode="lines", yaxis="y2",
                             line=dict(color=GREEN, width=0.9), hoverinfo="skip"))
fig.add_trace(go.Scatter(x=tp, y=control_p, mode="lines", yaxis="y2", line=dict(color=BLACK, width=3.2)))
fig.add_trace(go.Scatter(x=tp, y=mean_p, mode="lines", yaxis="y2", line=dict(color=BLUE, width=3.5)))


def px_x(x):
    return (x - 92) / 1015.0


def px_y(y):
    return (882 - y) / 772.0


def note(text, x, y, size, color=BLACK, xanchor="left", family=FONT, angle=0):
    fig.add_annotation(text=text, x=px_x(x), y=px_y(y), xref="paper", yref="paper", showarrow=False,
                       xanchor=xanchor, yanchor="middle", textangle=angle,
                       font=dict(family=family, size=size, color=color))


note("Youngstown-Warren Regional Airport", 585, 18, 31, xanchor="center", family=WIDE)
note("ICAO Code: KYNG", 97, 40, 23)
note("Coordinates: 41.26, -80.68", 97, 66, 23)
note("Ohio, USA", 97, 92, 23)
note("Model: 18Z 22AUG2026 GEFS", 1101, 63, 23, xanchor="right")
note("<b>weathertogether.net</b>", 1102, 90, 25, color="#0aa2f5", xanchor="right")
note("850 hPa Temperature (red, <sup>o</sup>C)", 30, 494, 31, xanchor="center", family=WIDE, angle=-90)
note("6-hour Precipitation (green, inches)", 1171, 495, 31, xanchor="center", family=WIDE, angle=90)

# legend box
fig.add_shape(type="rect", xref="paper", yref="paper", x0=px_x(480), x1=px_x(719), y0=px_y(199), y1=1.0,
              line=dict(color=BLACK, width=2), fillcolor="white", layer="above")
note("Control", 600, 121, 18, xanchor="center", family=WIDE)
note("Operational", 600, 142, 18, color=PURPLE, xanchor="center", family=WIDE)
note("Ensemble Mean", 600, 164, 18, color=BLUE, xanchor="center", family=WIDE)
note("Climatology (1981-2010)", 600, 186, 18, color=PINK, xanchor="center", family=WIDE)

fig.update_layout(
    width=1200, height=927,
    margin=dict(l=92, r=93, t=110, b=45),
    paper_bgcolor="white", plot_bgcolor="white",
    showlegend=False,
    font=dict(family=FONT, color=BLACK),
    xaxis=dict(type="date", range=[T0, T0 + timedelta(hours=384)], automargin=False,
               tickvals=TICK_DATES, ticktext=TICK_TEXT, ticks="outside", ticklen=5, tickwidth=2,
               tickcolor=BLACK, showline=True, linewidth=3, linecolor=BLACK, mirror=True,
               ticklabelstandoff=-3,
               showgrid=False, zeroline=False, tickfont=dict(size=13.5, family=FONT)),
    yaxis=dict(range=[-30, 30], tickvals=TEMP_TICKS, ticktext=[str(v) for v in TEMP_TICKS], automargin=False,
               ticks="outside", ticklen=6, tickwidth=1.5, tickcolor=BLACK,
               showline=True, linewidth=3, linecolor=BLACK, mirror=True,
               showgrid=True, gridcolor="#999999", griddash="2px,11px", gridwidth=2,
               zeroline=False, tickfont=dict(size=12, family=FONT)),
    yaxis2=dict(range=[0, 2], overlaying="y", side="right", tickvals=PRCP_TICKS, automargin=False,
                ticktext=[("%g" % v) for v in PRCP_TICKS], ticks="outside", ticklen=5, tickwidth=1.5,
                tickcolor=BLACK, showline=False, showgrid=False, zeroline=False,
                tickfont=dict(size=12, family=FONT)),
)

# the page body has a default 8px margin; drop it so the figure sits at the window corner
fig.write_html("out.html", config={"displayModeBar": False},
               post_script="document.body.style.margin='0px';")
